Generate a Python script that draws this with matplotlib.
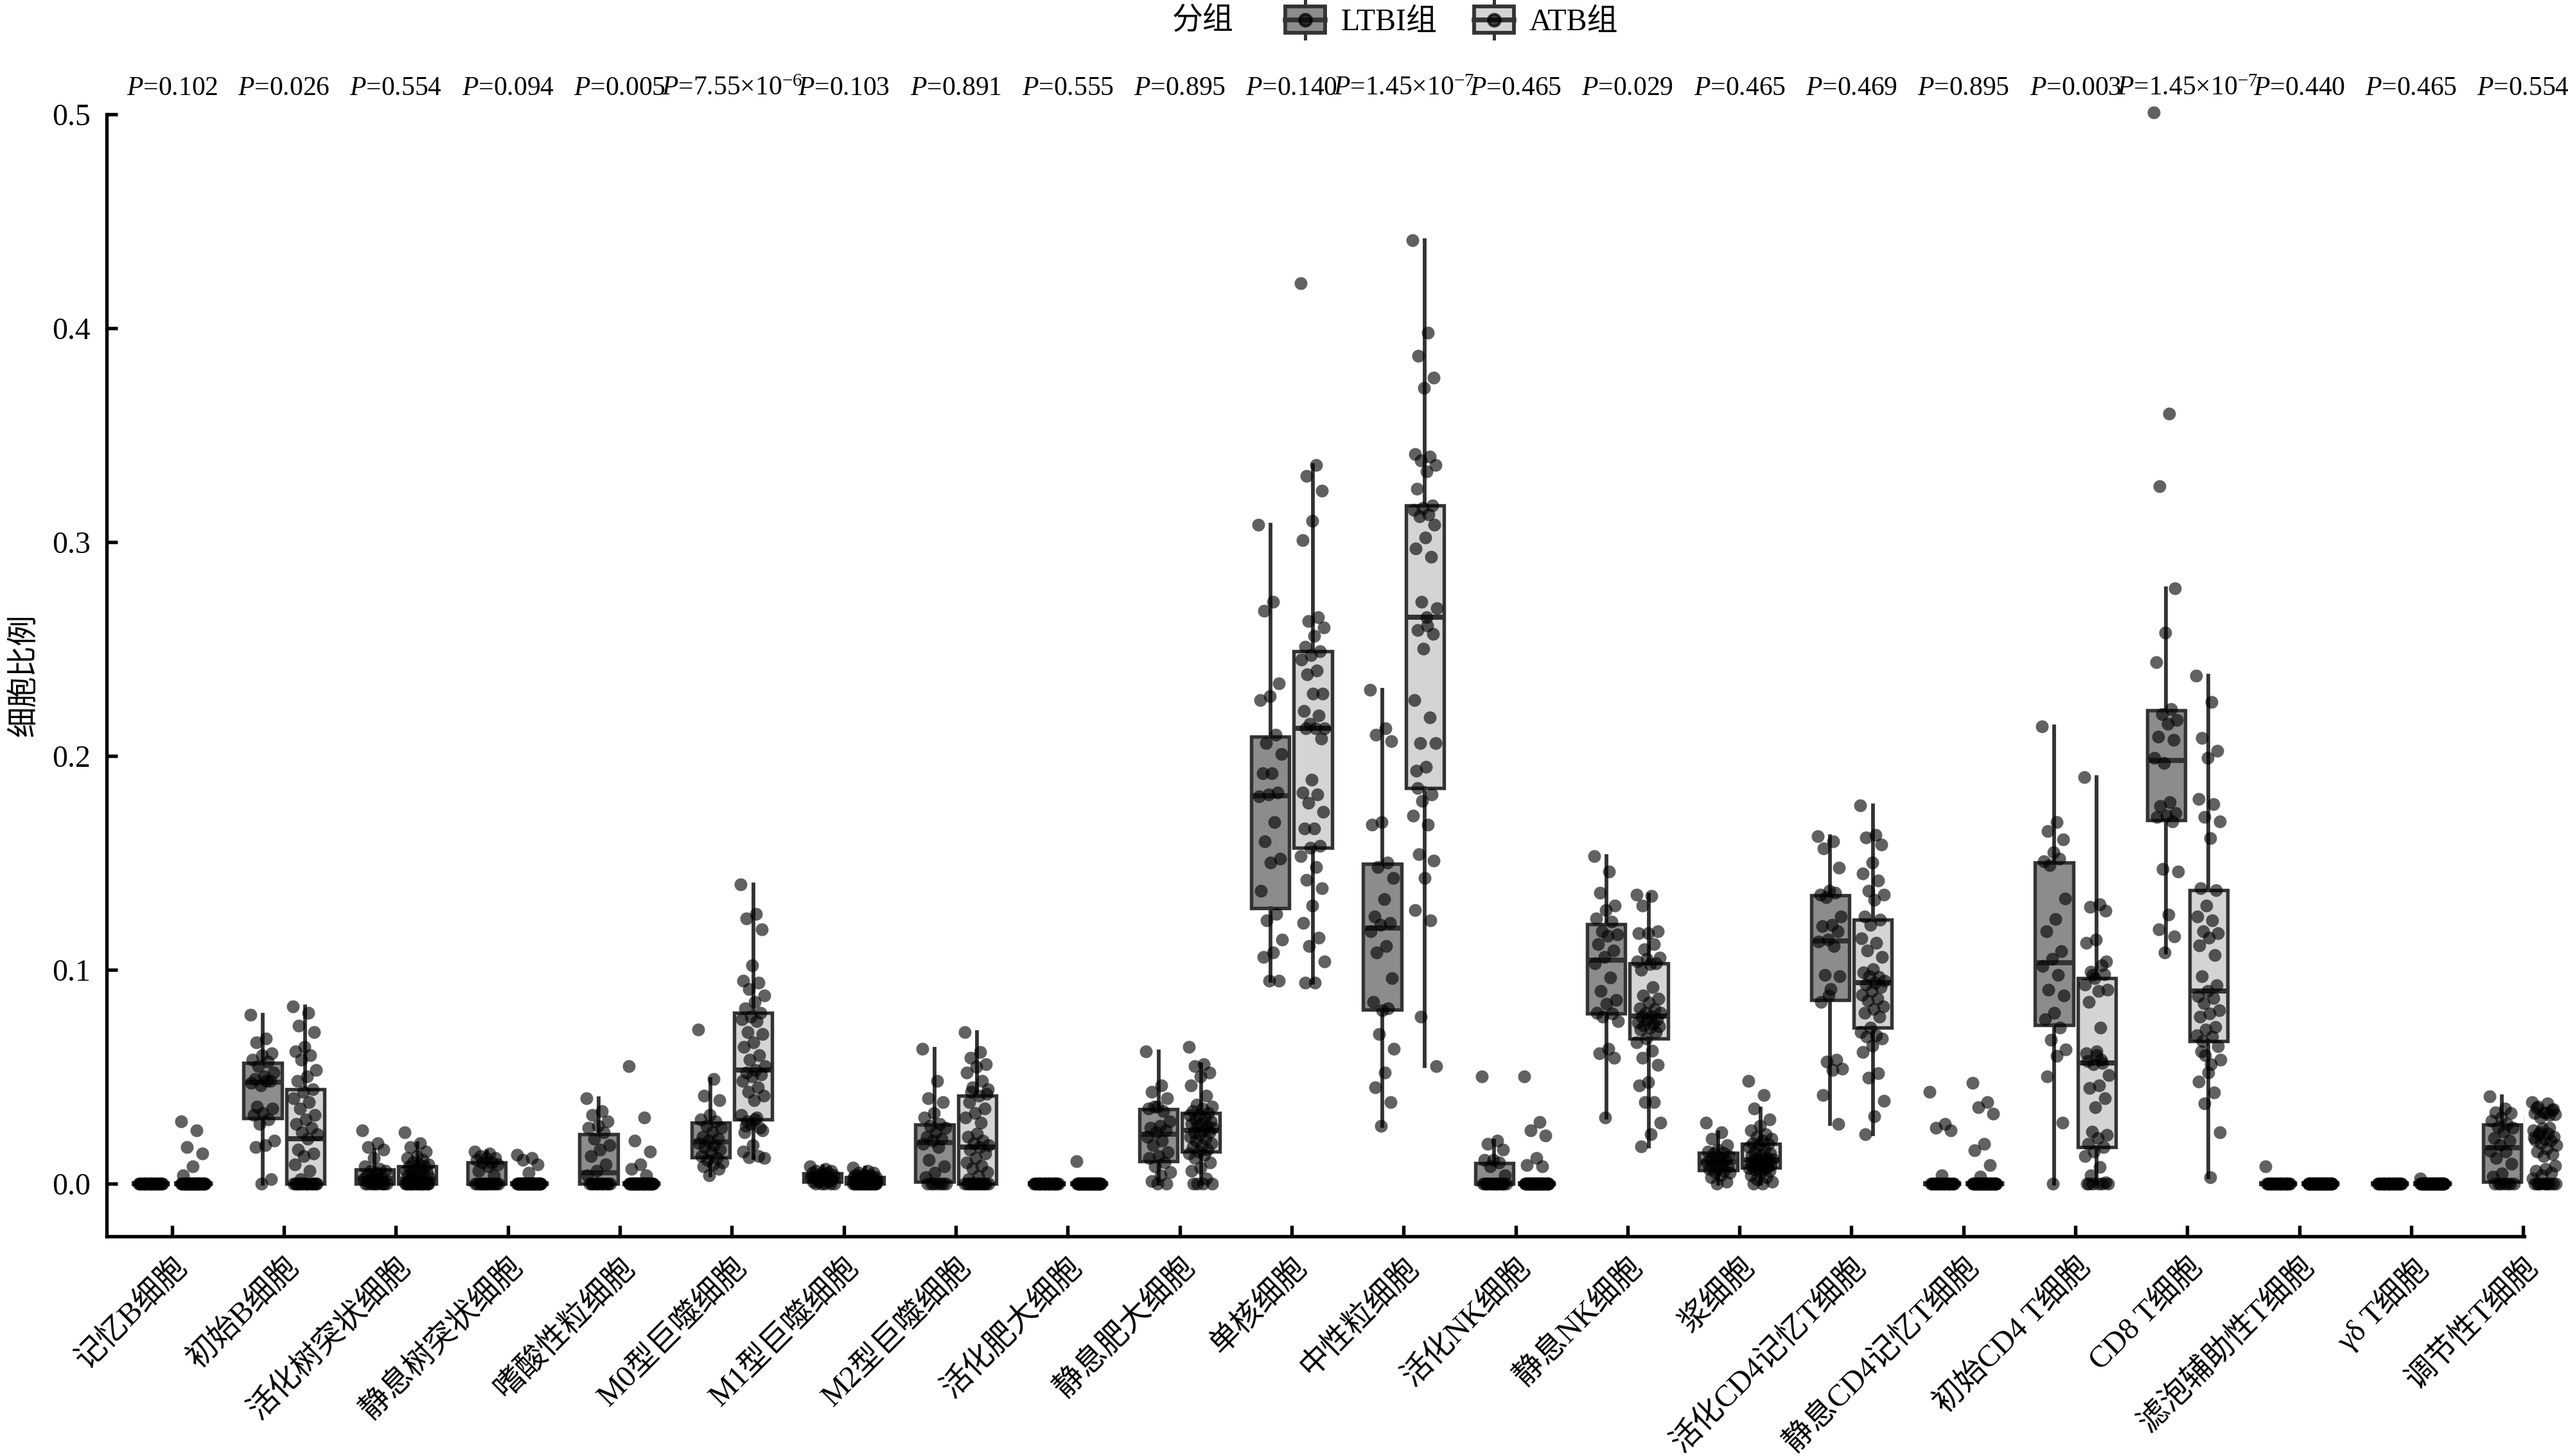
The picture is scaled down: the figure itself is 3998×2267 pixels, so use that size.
import matplotlib
matplotlib.use('Agg')
import matplotlib.pyplot as plt
import numpy as np
from matplotlib.legend_handler import HandlerBase
from matplotlib.patches import Rectangle
from matplotlib.lines import Line2D
from matplotlib.ticker import FormatStrFormatter

plt.rcParams['font.family'] = ['Liberation Serif', 'Noto Sans CJK SC']
plt.rcParams['mathtext.fontset'] = 'custom'
plt.rcParams['mathtext.rm'] = 'Liberation Serif'
plt.rcParams['mathtext.it'] = 'Liberation Serif:italic'

##########
## DATOS ##
##########

categorias = ['记忆B细胞', '初始B细胞', '活化树突状细胞', '静息树突状细胞', '嗜酸性粒细胞',
              'M0型巨噬细胞', 'M1型巨噬细胞', 'M2型巨噬细胞', '活化肥大细胞', '静息肥大细胞',
              '单核细胞', '中性粒细胞', '活化NK细胞', '静息NK细胞', '浆细胞',
              '活化CD4记忆T细胞', '静息CD4记忆T细胞', '初始CD4 T细胞', 'CD8 T细胞',
              '滤泡辅助性T细胞', 'γδ T细胞', '调节性T细胞']

p_valores = ['0.102', '0.026', '0.554', '0.094', '0.005', '7.55×10$^{-6}$', '0.103', '0.891',
             '0.555', '0.895', '0.140', '1.45×10$^{-7}$', '0.465', '0.029', '0.465', '0.469',
             '0.895', '0.003', '1.45×10$^{-7}$', '0.440', '0.465', '0.554']

# LTBI组
ltbi_memoria_b = [0.0] * 26
ltbi_naive_b = [0.079, 0.068, 0.066, 0.061, 0.060, 0.058, 0.057, 0.055, 0.052, 0.050, 0.049, 0.048, 0.046,
                0.047, 0.048, 0.036, 0.035, 0.033, 0.032, 0.030, 0.028, 0.020, 0.018, 0.017, 0.002, 0.0]
ltbi_dc_act = [0.025, 0.019, 0.017, 0.016, 0.012, 0.008, 0.007, 0.006, 0.006, 0.005, 0.004, 0.003, 0.003,
               0.002, 0.002, 0.001] + [0.0] * 10
ltbi_dc_rep = [0.015, 0.014, 0.013, 0.012, 0.012, 0.011, 0.010, 0.010, 0.009, 0.008, 0.006, 0.004] + [0.0] * 14
ltbi_eosino = [0.040, 0.034, 0.032, 0.029, 0.027, 0.026, 0.024, 0.021, 0.018, 0.016, 0.013, 0.009, 0.006,
               0.004] + [0.0] * 12
ltbi_m0 = [0.072, 0.049, 0.041, 0.039, 0.032, 0.030, 0.029, 0.027, 0.026, 0.024, 0.022, 0.021, 0.020,
           0.019, 0.018, 0.017, 0.016, 0.015, 0.013, 0.012, 0.011, 0.010, 0.009, 0.008, 0.007, 0.004]
ltbi_m1 = [0.008, 0.007, 0.006, 0.006, 0.005, 0.005, 0.005, 0.004, 0.004, 0.004, 0.003, 0.003, 0.003,
           0.003, 0.002, 0.002, 0.002, 0.002, 0.001, 0.001, 0.001, 0.0, 0.0, 0.0, 0.0, 0.0]
ltbi_m2 = [0.063, 0.048, 0.040, 0.038, 0.033, 0.031, 0.028, 0.027, 0.026, 0.024, 0.022, 0.021, 0.020,
           0.0186, 0.017, 0.011, 0.008, 0.005, 0.003] + [0.0] * 7
ltbi_mast_act = [0.0] * 26
ltbi_mast_rep = [0.062, 0.046, 0.043, 0.040, 0.036, 0.035, 0.034, 0.036, 0.029, 0.027, 0.026, 0.025, 0.024,
                 0.022, 0.020, 0.018, 0.0146, 0.013, 0.012, 0.010, 0.008, 0.0055, 0.004, 0.0012, 0.0, 0.0]
ltbi_mono = [0.308, 0.272, 0.268, 0.234, 0.228, 0.226, 0.210, 0.206, 0.201, 0.192, 0.192, 0.183, 0.182,
             0.181, 0.169, 0.160, 0.152, 0.150, 0.137, 0.126, 0.123, 0.114, 0.108, 0.106, 0.095, 0.095]
ltbi_neutro = [0.231, 0.213, 0.210, 0.207, 0.169, 0.168, 0.150, 0.148, 0.143, 0.133, 0.125, 0.122, 0.121,
               0.118, 0.111, 0.108, 0.096, 0.081, 0.085, 0.082, 0.070, 0.063, 0.052, 0.045, 0.038, 0.027]
ltbi_nk_act = [0.050, 0.020, 0.0185, 0.016, 0.0112, 0.011, 0.010, 0.008, 0.004] + [0.0] * 17
ltbi_nk_rep = [0.153, 0.146, 0.136, 0.130, 0.128, 0.124, 0.1226, 0.118, 0.1165, 0.116, 0.112, 0.109, 0.106,
               0.103, 0.0965, 0.090, 0.086, 0.084, 0.080, 0.0795, 0.078, 0.076, 0.063, 0.061, 0.059, 0.031]
ltbi_plasma = [0.0285, 0.024, 0.021, 0.018, 0.016, 0.015, 0.0145, 0.014, 0.013, 0.012, 0.0115, 0.011, 0.0105,
               0.010, 0.0095, 0.009, 0.008, 0.0075, 0.007, 0.006, 0.0055, 0.005, 0.004, 0.003, 0.001, 0.0]
ltbi_cd4m_act = [0.1625, 0.160, 0.1568, 0.1477, 0.137, 0.135, 0.136, 0.134, 0.125, 0.121, 0.1205, 0.118, 0.114,
                 0.1133, 0.111, 0.0975, 0.097, 0.091, 0.085, 0.058, 0.057, 0.0538, 0.053, 0.0413, 0.0278, 0.088]
ltbi_cd4m_rep = [0.043, 0.028, 0.026, 0.025, 0.004] + [0.0] * 21
ltbi_cd4_naive = [0.2137, 0.169, 0.165, 0.161, 0.155, 0.1507, 0.152, 0.149, 0.1334, 0.1237, 0.118, 0.1086, 0.105,
                  0.1018, 0.0975, 0.0906, 0.088, 0.0798, 0.077, 0.0731, 0.0673, 0.0628, 0.0598, 0.050, 0.0285, 0.0]
ltbi_cd8 = [0.501, 0.360, 0.326, 0.2785, 0.2577, 0.2437, 0.2219, 0.2196, 0.2169, 0.2149, 0.2091, 0.2074, 0.1967,
            0.199, 0.1783, 0.1766, 0.1733, 0.1722, 0.1715, 0.1693, 0.1471, 0.1458, 0.1257, 0.1189, 0.1156, 0.108]
ltbi_tfh = [0.0082] + [0.0] * 25
ltbi_gd = [0.0] * 26
ltbi_treg = [0.0407, 0.0351, 0.0334, 0.033, 0.0309, 0.0294, 0.028, 0.0264, 0.026, 0.0244, 0.0214, 0.020,
             0.018, 0.0154, 0.0149, 0.012, 0.0094, 0.0049, 0.0034] + [0.0] * 7

# ATB组
atb_memoria_b = [0.029, 0.025, 0.017, 0.014, 0.008, 0.004] + [0.0] * 39
atb_naive_b = [0.083, 0.080, 0.074, 0.071, 0.064, 0.062, 0.060, 0.058, 0.053, 0.050, 0.048, 0.044, 0.043, 0.040,
               0.038, 0.035, 0.032, 0.030, 0.028, 0.026, 0.024, 0.023, 0.021, 0.016, 0.014, 0.013, 0.009, 0.006,
               0.002] + [0.0] * 16
atb_dc_act = [0.024, 0.019, 0.017, 0.015, 0.013, 0.012, 0.011, 0.010, 0.009, 0.009, 0.008, 0.008, 0.007, 0.006,
              0.006, 0.005, 0.005, 0.004, 0.004, 0.004, 0.003, 0.003, 0.002, 0.002, 0.001, 0.001] + [0.0] * 19
atb_dc_rep = [0.0135, 0.012, 0.011, 0.009, 0.005] + [0.0] * 40
atb_eosino = [0.055, 0.031, 0.020, 0.015, 0.009, 0.007, 0.004] + [0.0] * 38
atb_m0 = [0.140, 0.126, 0.124, 0.119, 0.102, 0.095, 0.094, 0.091, 0.088, 0.085, 0.082, 0.080, 0.078, 0.077,
          0.076, 0.071, 0.070, 0.066, 0.064, 0.060, 0.058, 0.055, 0.053, 0.052, 0.051, 0.050, 0.048, 0.045,
          0.043, 0.041, 0.039, 0.024, 0.026, 0.028, 0.032, 0.031, 0.029, 0.025, 0.018, 0.015, 0.013, 0.0124,
          0.012, 0.030, 0.027]
atb_m1 = [0.0075, 0.006, 0.005, 0.005, 0.004, 0.004, 0.004, 0.004, 0.003, 0.003, 0.003, 0.003, 0.003, 0.003,
          0.002, 0.002, 0.002, 0.002, 0.002, 0.001, 0.001, 0.001, 0.001, 0.001] + [0.0] * 21
atb_m2 = [0.071, 0.0615, 0.059, 0.056, 0.0546, 0.052, 0.048, 0.045, 0.044, 0.041, 0.038, 0.035, 0.033, 0.031,
          0.0285, 0.043, 0.042, 0.0235, 0.022, 0.020, 0.019, 0.018, 0.017, 0.016, 0.014, 0.012, 0.010, 0.0085,
          0.0073, 0.0055, 0.0036, 0.002] + [0.0] * 13
atb_mast_act = [0.0106] + [0.0] * 44
atb_mast_rep = [0.064, 0.056, 0.055, 0.052, 0.050, 0.046, 0.041, 0.037, 0.036, 0.035, 0.034, 0.033, 0.032,
                0.032, 0.031, 0.030, 0.029, 0.028, 0.028, 0.027, 0.027, 0.026, 0.025, 0.024, 0.024, 0.023,
                0.022, 0.021, 0.020, 0.019, 0.018, 0.017, 0.016, 0.015, 0.014, 0.0135, 0.012, 0.010, 0.0074,
                0.006, 0.0024, 0.0, 0.0, 0.0, 0.0]
atb_mono = [0.421, 0.336, 0.331, 0.324, 0.310, 0.301, 0.265, 0.263, 0.260, 0.256, 0.251, 0.249, 0.247, 0.245,
            0.240, 0.238, 0.229, 0.229, 0.221, 0.219, 0.215, 0.213, 0.213, 0.213, 0.208, 0.189, 0.183, 0.182,
            0.178, 0.174, 0.166, 0.166, 0.158, 0.157, 0.153, 0.148, 0.142, 0.138, 0.130, 0.122, 0.115, 0.111,
            0.104, 0.094, 0.094]
atb_neutro = [0.441, 0.398, 0.387, 0.377, 0.372, 0.341, 0.340, 0.338, 0.336, 0.333, 0.325, 0.317, 0.316, 0.315,
              0.313, 0.312, 0.308, 0.302, 0.297, 0.293, 0.272, 0.269, 0.261, 0.259, 0.257, 0.250, 0.226, 0.218,
              0.206, 0.206, 0.195, 0.193, 0.182, 0.179, 0.172, 0.168, 0.154, 0.151, 0.143, 0.128, 0.123, 0.078,
              0.055, 0.265, 0.185]
atb_nk_act = [0.050, 0.0288, 0.025, 0.0225, 0.012, 0.0088, 0.008] + [0.0] * 38
atb_nk_rep = [0.135, 0.1345, 0.130, 0.118, 0.117, 0.117, 0.112, 0.1096, 0.1057, 0.1027, 0.100, 0.103, 0.105,
              0.104, 0.092, 0.088, 0.0865, 0.0846, 0.082, 0.0816, 0.080, 0.080, 0.0785, 0.078, 0.077, 0.0766,
              0.0755, 0.0749, 0.074, 0.0736, 0.073, 0.072, 0.0709, 0.068, 0.066, 0.0623, 0.059, 0.0555, 0.0474,
              0.046, 0.038, 0.038, 0.0286, 0.023, 0.0174]
atb_plasma = [0.048, 0.0414, 0.035, 0.030, 0.027, 0.025, 0.023, 0.022, 0.021, 0.020, 0.019, 0.0185, 0.018,
              0.017, 0.016, 0.015, 0.014, 0.0135, 0.013, 0.012, 0.0118, 0.0114, 0.0112, 0.011, 0.0105, 0.010,
              0.0098, 0.0095, 0.009, 0.0088, 0.0085, 0.008, 0.0078, 0.0075, 0.0072, 0.007, 0.0065, 0.006,
              0.005, 0.004, 0.003, 0.002, 0.001, 0.0, 0.0]
atb_cd4m_act = [0.177, 0.163, 0.162, 0.1586, 0.150, 0.145, 0.1417, 0.137, 0.135, 0.1327, 0.125, 0.1234, 0.121,
                0.1147, 0.1125, 0.109, 0.106, 0.1004, 0.0989, 0.0967, 0.097, 0.095, 0.094, 0.093, 0.092, 0.090,
                0.0883, 0.0865, 0.0855, 0.083, 0.0817, 0.080, 0.078, 0.073, 0.071, 0.0695, 0.0688, 0.068,
                0.0645, 0.0617, 0.0517, 0.0494, 0.0388, 0.0314, 0.0232]
atb_cd4m_rep = [0.047, 0.038, 0.0356, 0.0327, 0.0185, 0.0157, 0.0088, 0.0033] + [0.0] * 37
atb_cd4_naive = [0.190, 0.1306, 0.1294, 0.1277, 0.1141, 0.1126, 0.1021, 0.0975, 0.0906, 0.090, 0.085, 0.098,
                 0.096, 0.093, 0.0731, 0.099, 0.104, 0.062, 0.0573, 0.0566, 0.0559, 0.0508, 0.0458, 0.0447,
                 0.040, 0.0357, 0.061, 0.058, 0.0243, 0.0228, 0.0214, 0.0185, 0.0171, 0.015, 0.0128, 0.0077,
                 0.004, 0.0007, 0.060] + [0.0] * 6
atb_cd8 = [0.2376, 0.2253, 0.2085, 0.2024, 0.1990, 0.1798, 0.1776, 0.1716, 0.1693, 0.1616, 0.1381, 0.1371,
           0.130, 0.125, 0.1230, 0.118, 0.1170, 0.115, 0.1113, 0.1069, 0.060, 0.058, 0.056, 0.0969, 0.0929,
           0.090, 0.0878, 0.0868, 0.0845, 0.0812, 0.0795, 0.078, 0.0733, 0.072, 0.0694, 0.0687, 0.0668,
           0.0644, 0.0520, 0.0477, 0.0425, 0.0376, 0.0241, 0.003, 0.062]
atb_tfh = [0.0] * 45
atb_gd = [0.0024] + [0.0] * 44
atb_treg = [0.038, 0.0374, 0.036, 0.0349, 0.0334, 0.033, 0.032, 0.031, 0.0325, 0.033, 0.0355, 0.0345, 0.0259,
            0.025, 0.0234, 0.023, 0.022, 0.021, 0.0205, 0.020, 0.019, 0.018, 0.0164, 0.015, 0.0139, 0.013,
            0.0215, 0.026, 0.024, 0.0084, 0.007, 0.006, 0.005, 0.0039, 0.0024] + [0.0] * 10

datos_ltbi = [ltbi_memoria_b, ltbi_naive_b, ltbi_dc_act, ltbi_dc_rep, ltbi_eosino, ltbi_m0, ltbi_m1, ltbi_m2,
              ltbi_mast_act, ltbi_mast_rep, ltbi_mono, ltbi_neutro, ltbi_nk_act, ltbi_nk_rep, ltbi_plasma,
              ltbi_cd4m_act, ltbi_cd4m_rep, ltbi_cd4_naive, ltbi_cd8, ltbi_tfh, ltbi_gd, ltbi_treg]
datos_atb = [atb_memoria_b, atb_naive_b, atb_dc_act, atb_dc_rep, atb_eosino, atb_m0, atb_m1, atb_m2,
             atb_mast_act, atb_mast_rep, atb_mono, atb_neutro, atb_nk_act, atb_nk_rep, atb_plasma,
             atb_cd4m_act, atb_cd4m_rep, atb_cd4_naive, atb_cd8, atb_tfh, atb_gd, atb_treg]

color_ltbi = '#8c8c8c'
color_atb = '#d4d4d4'
color_borde = '#333333'


# icono de leyenda: caja con bigotes y punto
class HandlerCaja(HandlerBase):
    def create_artists(self, legend, orig_handle, xdescent, ydescent, width, height, fontsize, trans):
        cx = width / 2 - xdescent
        h = height * 1.35
        y0 = -ydescent + height / 2 - h / 2
        bigote = Line2D([cx, cx], [y0, y0 + h], color=color_borde, lw=1.2, transform=trans)
        caja = Rectangle((-xdescent, y0 + h * 0.15), width, h * 0.7, facecolor=orig_handle.get_facecolor(),
                         edgecolor=color_borde, lw=1.4, transform=trans)
        mediana = Line2D([-xdescent, width - xdescent], [y0 + h / 2] * 2, color=color_borde, lw=1.8, transform=trans)
        punto = Line2D([cx], [y0 + h / 2], marker='o', ms=4.5, color='black', alpha=0.7, lw=0, transform=trans)
        return [bigote, caja, mediana, punto]


######################
## GENERAR GRÁFICA ##
######################

fig = plt.figure(figsize=(3998 / 300, 2267 / 300), dpi=300)
ax = fig.add_axes([0.0415, 0.1509, 0.9415, 0.7706])

x = np.arange(len(categorias))
desp = 0.19
ancho = 0.34

for datos, pos, color in [(datos_ltbi, x - desp, color_ltbi), (datos_atb, x + desp, color_atb)]:
    ax.boxplot(datos, positions=pos, widths=ancho, patch_artist=True, showcaps=False, showfliers=False,
               manage_ticks=False,
               boxprops=dict(facecolor=color, edgecolor=color_borde, lw=1.3),
               medianprops=dict(color=color_borde, lw=1.9),
               whiskerprops=dict(color=color_borde, lw=1.4), zorder=2)
    # puntos con dispersión horizontal fija
    for i, valores in enumerate(datos):
        n = len(valores)
        jitter = ((np.arange(n) * 0.618034) % 1.0 - 0.5) * 0.22
        ax.scatter(pos[i] + jitter, valores, s=23, color='black', alpha=0.62, lw=0, zorder=3, clip_on=False)

# valores P
for i, p in enumerate(p_valores):
    ax.text(i, 0.512, '$P$=' + p, ha='center', va='center', fontsize=10, clip_on=False)

ax.set_xlim(-0.585, 21.01)
ax.set_ylim(-0.0246, 0.5)
ax.set_xticks(x)
ax.set_xticklabels(categorias, rotation=45, ha='right', rotation_mode='anchor', fontsize=11.5)
ax.set_yticks(np.arange(0, 0.51, 0.1))
ax.yaxis.set_major_formatter(FormatStrFormatter('%.1f'))
ax.tick_params(axis='y', labelsize=11.5)
ax.tick_params(direction='in', length=4, width=1.3, pad=6)
ax.set_ylabel('细胞比例', fontsize=11.5, labelpad=5)

ax.spines['top'].set_visible(False)
ax.spines['right'].set_visible(False)
ax.spines['left'].set_linewidth(1.3)
ax.spines['bottom'].set_linewidth(1.3)

# leyenda
fig.text(0.4685, 0.9854, '分组', ha='center', va='center', fontsize=11.5)
h1 = Rectangle((0, 0), 1, 1, facecolor=color_ltbi)
h2 = Rectangle((0, 0), 1, 1, facecolor=color_atb)
fig.legend([h1, h2], ['LTBI组', 'ATB组'], loc='center', bbox_to_anchor=(0.5653, 0.9854), ncol=2,
           frameon=False, fontsize=11.5, handlelength=1.3, handleheight=1.0, handletextpad=0.5,
           columnspacing=1.2, borderpad=0, handler_map={Rectangle: HandlerCaja()})

plt.savefig('out.png', dpi=300)
plt.close()
